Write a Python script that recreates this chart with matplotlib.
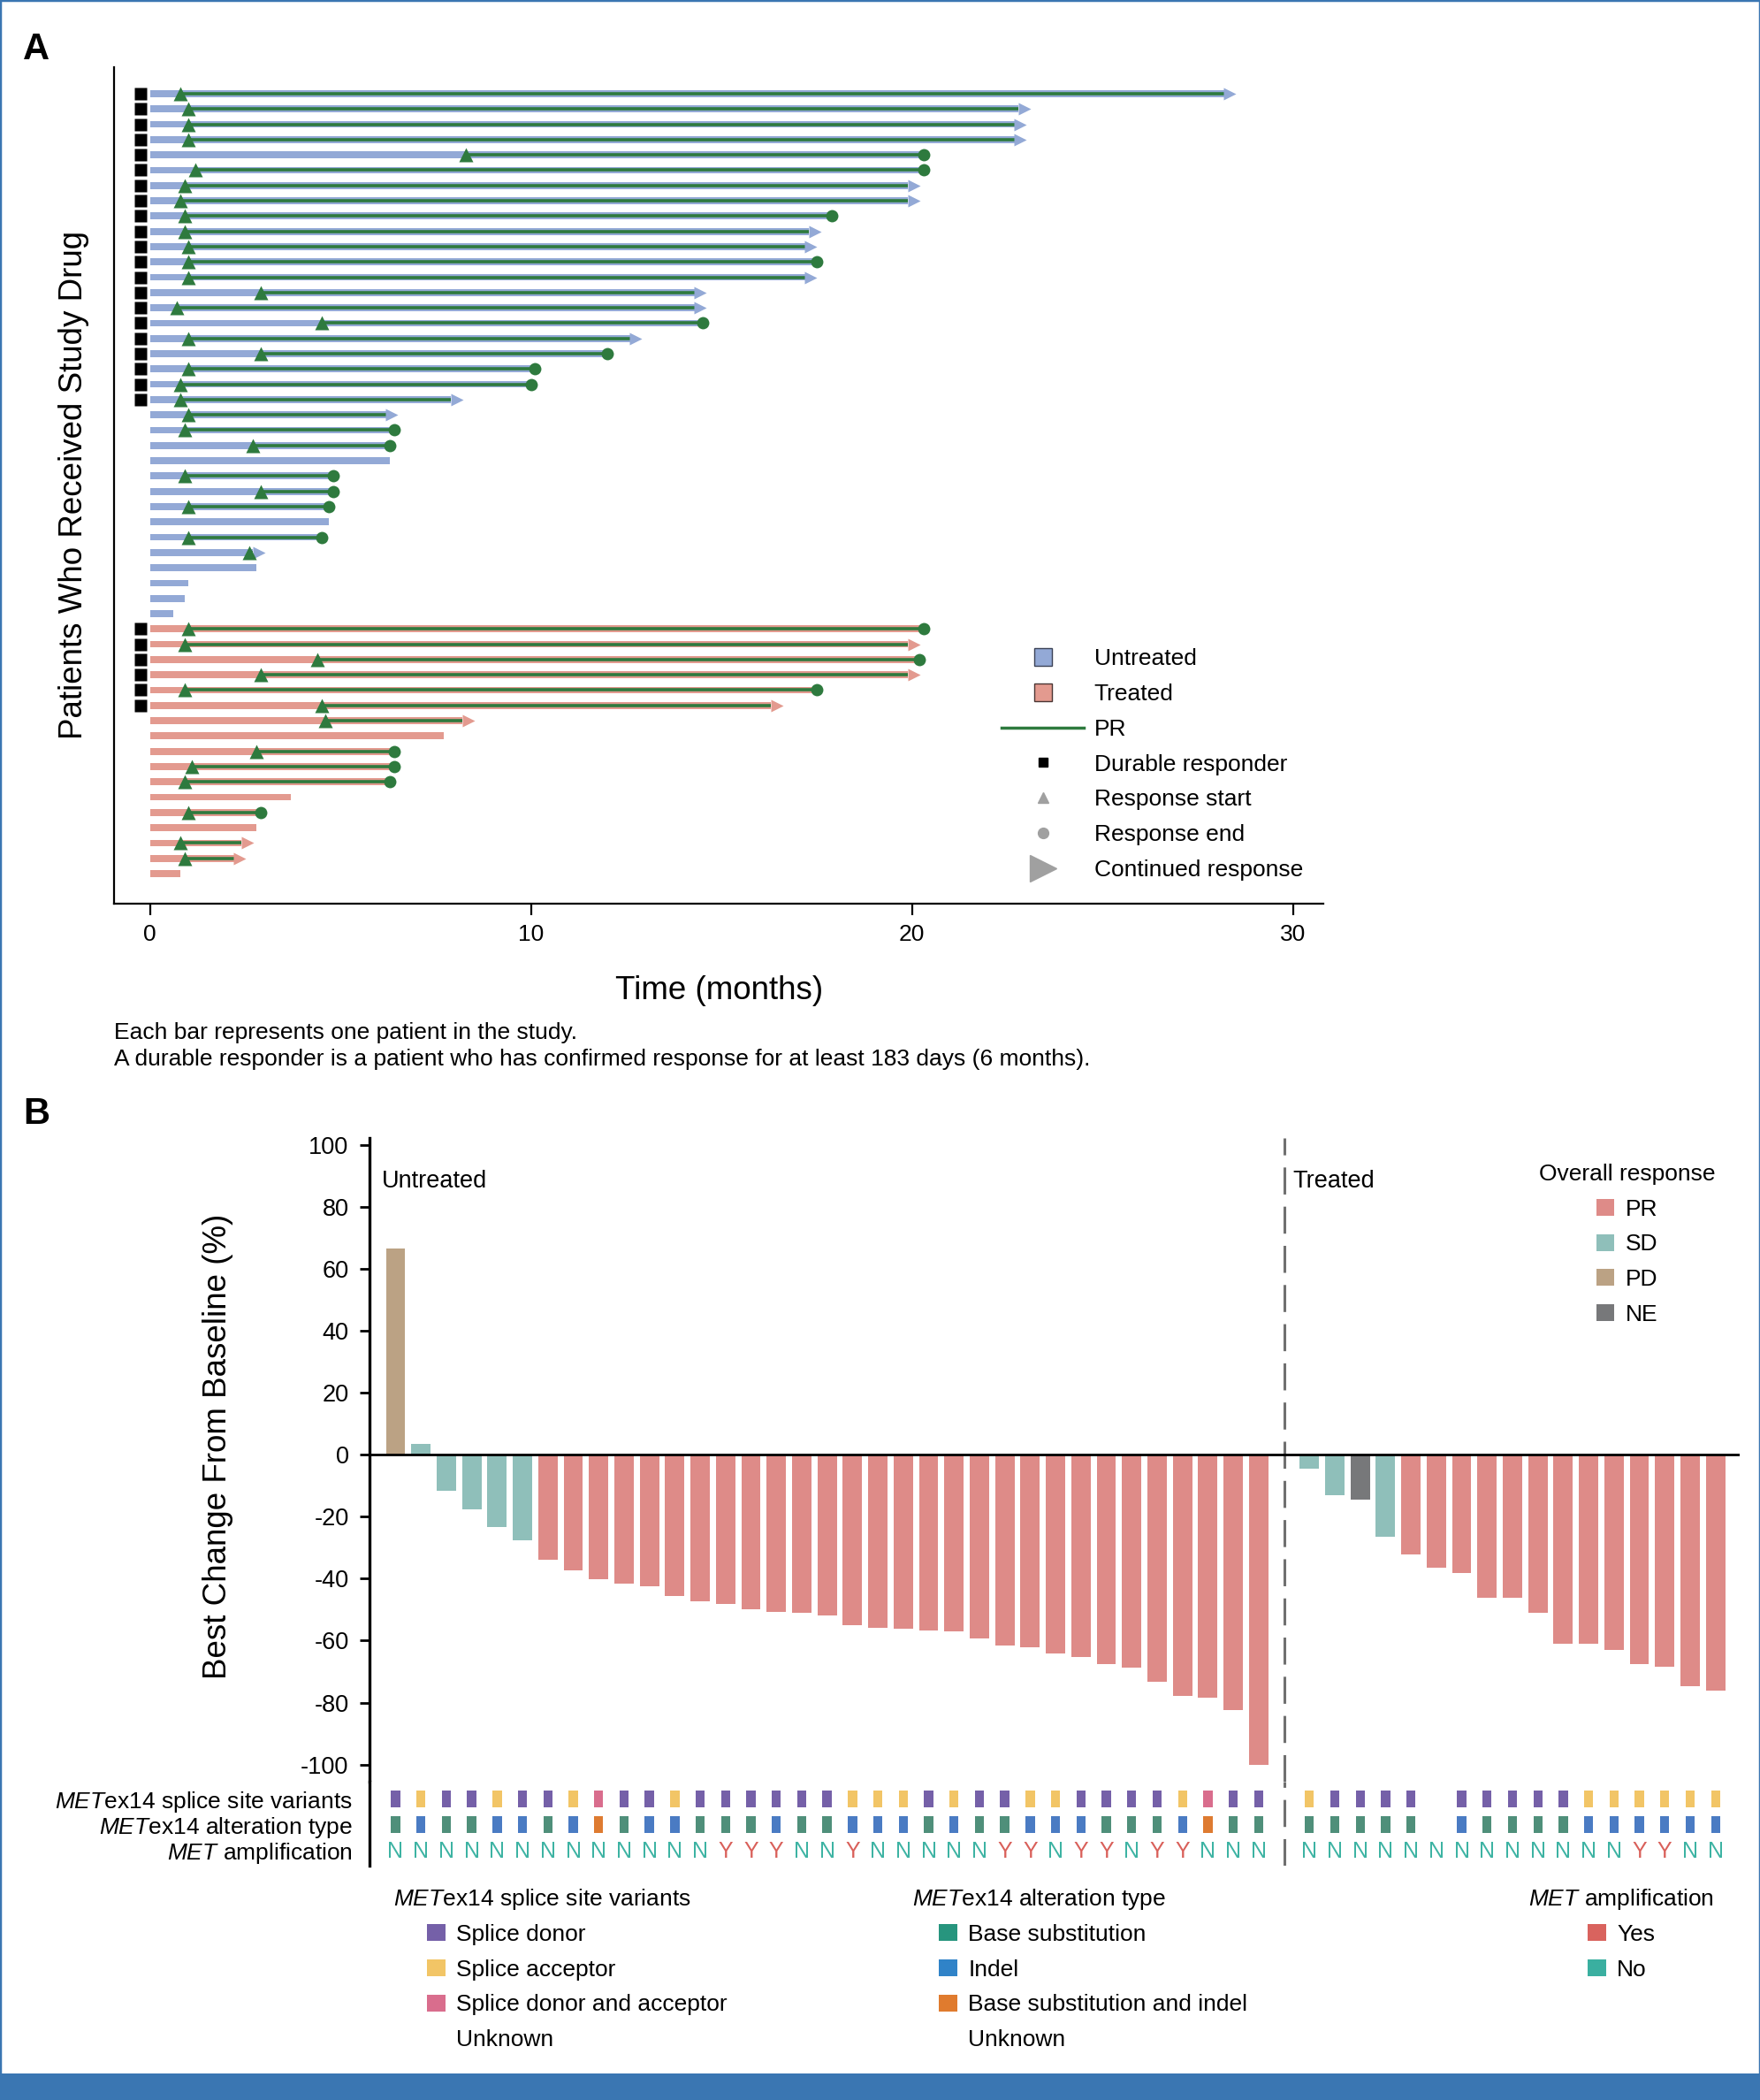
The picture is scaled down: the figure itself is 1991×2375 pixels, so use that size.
import matplotlib
matplotlib.use("Agg")
import matplotlib.pyplot as plt
from matplotlib.lines import Line2D
from matplotlib.patches import Patch, Rectangle
import numpy as np

plt.rcParams['font.family'] = ['Liberation Sans', 'DejaVu Sans']
plt.rcParams['mathtext.fontset'] = 'custom'
plt.rcParams['mathtext.rm'] = 'Liberation Sans'
plt.rcParams['mathtext.it'] = 'Liberation Sans:italic'
plt.rcParams['axes.unicode_minus'] = False

# ---------------- panel A: swimmer data (months) ----------------
untreated_end = [28.2, 22.8, 22.7, 22.7, 20.3, 20.3, 19.9, 19.9, 17.9, 17.3,
                 17.2, 17.5, 17.2, 14.3, 14.3, 14.5, 12.6, 12.0, 10.1, 10.0,
                 7.9, 6.2, 6.4, 6.3, 6.3, 4.8, 4.8, 4.7, 4.7, 4.5,
                 2.7, 2.8, 1.0, 0.9, 0.6]
untreated_start = [0.8, 1.0, 1.0, 1.0, 8.3, 1.2, 0.9, 0.8, 0.9, 0.9,
                   1.0, 1.0, 1.0, 2.9, 0.7, 4.5, 1.0, 2.9, 1.0, 0.8,
                   0.8, 1.0, 0.9, 2.7, None, 0.9, 2.9, 1.0, None, 1.0,
                   2.6, None, None, None, None]
untreated_status = ['arrow', 'arrow', 'arrow', 'arrow', 'end', 'end', 'arrow', 'arrow', 'end', 'arrow',
                    'arrow', 'end', 'arrow', 'arrow', 'arrow', 'end', 'arrow', 'end', 'end', 'end',
                    'arrow', 'arrow', 'end', 'end', None, 'end', 'end', 'end', None, 'end',
                    'arrow', None, None, None, None]
untreated_durable = 21

treated_end = [20.3, 19.9, 20.2, 19.9, 17.5, 16.3, 8.2, 7.7, 6.4, 6.4,
               6.3, 3.7, 2.9, 2.8, 2.4, 2.2, 0.8]
treated_start = [1.0, 0.9, 4.4, 2.9, 0.9, 4.5, 4.6, None, 2.8, 1.1,
                 0.9, None, 1.0, None, 0.8, 0.9, None]
treated_status = ['end', 'arrow', 'end', 'arrow', 'end', 'arrow', 'arrow', None, 'end', 'end',
                  'end', None, 'end', None, 'arrow', 'arrow', None]
treated_durable = 6

# ---------------- panel B: waterfall data (%) ----------------
untreated_change = [66.5, 3.4, -11.5, -17.6, -23.4, -27.7, -33.8, -37.2, -40.3, -41.6,
                    -42.4, -45.5, -47.2, -48.1, -49.8, -50.6, -51.1, -51.9, -55.0, -55.8,
                    -56.3, -56.7, -57.1, -59.3, -61.5, -62.3, -64.1, -65.4, -67.5, -68.8,
                    -73.2, -77.9, -78.4, -82.3, -100.0]
untreated_resp = ['PD'] + ['SD'] * 5 + ['PR'] * 29
treated_change = [-4.5, -13.2, -14.5, -26.5, -32.3, -36.5, -38.2, -46.1, -46.1, -50.9,
                  -61.0, -61.0, -63.1, -67.6, -68.3, -74.6, -76.1]
treated_resp = ['SD', 'SD', 'NE', 'SD'] + ['PR'] * 13

# D donor, A acceptor, B both, U unknown
untreated_splice = list("DADDADDABDDADDDDDDAAADADDAADDDDABDD")
treated_splice = list("ADDDDUDDDDDAAAAAA")
# S base substitution, I indel, X both, U unknown
untreated_alt = list("SISSIISIXSIISSSISSIIISISSIIISSSIXSS")
treated_alt = list("SSSSSUISSSSIIIIII")
untreated_amp = list("NNNNNNNNNNNNNYYYNNYNNNNNYYNYYNYYNNN")
treated_amp = list("NNNNNNNNNNNNNYYNN")

# ---------------- styling ----------------
BLUE = '#93a9d6'
SALMON = '#e39a8f'
GREEN = '#2e7a3e'
resp_colors = {'PR': '#de8b88', 'SD': '#8fbfba', 'PD': '#bba284', 'NE': '#77787a'}
splice_colors = {'D': '#7560a8', 'A': '#f2c566', 'B': '#d96d8d'}
alt_colors = {'S': '#4f8f7a', 'I': '#4a7bc3', 'X': '#de7b31'}
amp_colors = {'Y': '#d9605a', 'N': '#3db3a3'}
FRAME = '#3a76b2'
FS = 19

W, H = 1314, 1568  # layout measured on the reference at this scale


def fx(x):
    return x / W


def fy(y):
    return 1 - y / H


fig = plt.figure(figsize=(19.91, 23.75), dpi=100)

# ================= panel A =================
axA = fig.add_axes([fx(85), fy(675), fx(988) - fx(85), fy(50) - fy(675)])
row = 0
for ends, starts, status, ndur, col in [
        (untreated_end, untreated_start, untreated_status, untreated_durable, BLUE),
        (treated_end, treated_start, treated_status, treated_durable, SALMON)]:
    for k, (e, s, st) in enumerate(zip(ends, starts, status)):
        axA.barh(row, e, height=0.45, color=col, zorder=2)
        if s is not None:
            axA.plot([s, e], [row, row], color=GREEN, lw=2.6, solid_capstyle='butt', zorder=3)
            axA.plot(s, row, marker='^', ms=11, color=GREEN, mec='none', zorder=5)
        if st == 'end':
            axA.plot(e, row, marker='o', ms=10, color=GREEN, mec='none', zorder=5)
        elif st == 'arrow':
            axA.plot(e + 0.15, row, marker='>', ms=10, color=col, mec='none', zorder=4)
        if k < ndur:
            axA.plot(-0.25, row, marker='s', ms=9.5, color='black', mec='none', zorder=5)
        row += 1

axA.set_xlim(-0.95, 30.8)
axA.set_ylim(52.99, -1.75)
axA.set_xticks([0, 10, 20, 30])
axA.set_yticks([])
axA.tick_params(axis='x', length=9, width=1.6, pad=7, labelsize=FS)
for sp in ['top', 'right']:
    axA.spines[sp].set_visible(False)
for sp in ['left', 'bottom']:
    axA.spines[sp].set_linewidth(1.6)

fig.text(fx(55), fy(362), 'Patients Who Received Study Drug', rotation=90,
         ha='center', va='center', fontsize=26.5)
fig.text(fx(537), fy(740), 'Time (months)', ha='center', va='center', fontsize=26.5)

legA = [
    Line2D([], [], ls='none', marker='s', ms=14, mfc=BLUE, mec='#3b4256', mew=1.0),
    Line2D([], [], ls='none', marker='s', ms=14, mfc=SALMON, mec='#4a3533', mew=1.0),
    Line2D([], [], color=GREEN, lw=2.5),
    Line2D([], [], ls='none', marker='s', ms=6.5, color='black'),
    Line2D([], [], ls='none', marker='^', ms=9, color='#a0a0a0'),
    Line2D([], [], ls='none', marker='o', ms=8.5, color='#a0a0a0'),
    Line2D([], [], ls='none', marker='>', ms=21, color='#a0a0a0'),
]
labA = ['Untreated', 'Treated', 'PR', 'Durable responder', 'Response start',
        'Response end', 'Continued response']
fig.legend(legA, labA, loc='upper left', bbox_to_anchor=(fx(748), fy(484)),
           bbox_transform=fig.transFigure, frameon=False, fontsize=FS,
           handlelength=3.5, handletextpad=0.45, labelspacing=0.6,
           borderpad=0, borderaxespad=0)

fig.text(fx(85), fy(771), 'Each bar represents one patient in the study.',
         va='center', fontsize=FS)
fig.text(fx(85), fy(791), 'A durable responder is a patient who has confirmed response '
         'for at least 183 days (6 months).', va='center', fontsize=FS)

# ================= panel B =================
nu = len(untreated_change)
xu = np.arange(nu)
xt = np.arange(nu + 1, nu + 1 + len(treated_change))
x_all = np.concatenate([xu, xt])

axB = fig.add_axes([fx(276), fy(1330), fx(1299) - fx(276), fy(850) - fy(1330)])
axB.bar(xu, untreated_change, width=0.76, color=[resp_colors[r] for r in untreated_resp], zorder=2)
axB.bar(xt, treated_change, width=0.76, color=[resp_colors[r] for r in treated_resp], zorder=2)
axB.axhline(0, color='black', lw=2, zorder=3)
axB.axvline(nu, color='#707070', lw=2.2, dashes=(10, 4.5), zorder=1)
axB.set_xlim(-1.02, 52.96)
axB.set_ylim(-105.4, 102.1)
yt = list(range(-100, 101, 20))
axB.set_yticks(yt)
axB.set_yticklabels([str(v) for v in yt])
axB.set_xticks([])
axB.tick_params(axis='y', length=8, width=2, pad=9, labelsize=19.5)
for sp in ['top', 'right', 'bottom']:
    axB.spines[sp].set_visible(False)
axB.spines['left'].set_linewidth(2.4)

fig.text(fx(163), fy(1080), 'Best Change From Baseline (%)', rotation=90,
         ha='center', va='center', fontsize=26.5)
fig.text(fx(285), fy(882), 'Untreated', va='center', fontsize=19.5)
fig.text(fx(965), fy(882), 'Treated', va='center', fontsize=19.5)

resp_order = ['PR', 'SD', 'PD', 'NE']
fig.legend([Patch(facecolor=resp_colors[r]) for r in resp_order], resp_order,
           title='Overall response', loc='upper center',
           bbox_to_anchor=(fx(1215), fy(869)), bbox_transform=fig.transFigure,
           frameon=False, fontsize=FS, title_fontsize=FS, handlelength=0.75,
           handleheight=0.75, handletextpad=0.5, labelspacing=0.59,
           borderpad=0, borderaxespad=0)

# ---- annotation rows ----
axN = fig.add_axes([fx(276), fy(1393), fx(1299) - fx(276), fy(1330) - fy(1393)])
splice = untreated_splice + treated_splice
alt = untreated_alt + treated_alt
amp = untreated_amp + treated_amp
for xi, s, a, m in zip(x_all, splice, alt, amp):
    if s in splice_colors:
        axN.bar(xi, 0.66, bottom=-0.33, width=0.36, color=splice_colors[s])
    if a in alt_colors:
        axN.bar(xi, 0.66, bottom=0.67, width=0.36, color=alt_colors[a])
    axN.text(xi, 2.03, m, ha='center', va='center', color=amp_colors[m], fontsize=18)
axN.axvline(nu, color='#707070', lw=2.2, dashes=(10, 4.5))
axN.set_xlim(-1.02, 52.96)
axN.set_ylim(2.58, -0.68)
axN.set_xticks([])
axN.set_yticks([0, 1, 2])
axN.set_yticklabels([r'$\mathit{MET}$ex14 splice site variants',
                     r'$\mathit{MET}$ex14 alteration type',
                     r'$\mathit{MET}$ amplification'])
axN.tick_params(axis='y', length=0, pad=14, labelsize=FS)
for sp in ['top', 'right', 'bottom']:
    axN.spines[sp].set_visible(False)
axN.spines['left'].set_linewidth(2.4)

# ---- bottom legends ----
none_patch = Patch(facecolor='none', edgecolor='none')
bottom_legends = [
    (294, 318.6, r'$\mathit{MET}$ex14 splice site variants',
     [Patch(facecolor=splice_colors[k]) for k in 'DAB'] + [none_patch],
     ['Splice donor', 'Splice acceptor', 'Splice donor and acceptor', 'Unknown']),
    (681, 701, r'$\mathit{MET}$ex14 alteration type',
     [Patch(facecolor=c) for c in ['#27957e', '#3083c8', '#e07b2e']] + [none_patch],
     ['Base substitution', 'Indel', 'Base substitution and indel', 'Unknown']),
    (1141, 1185.5, r'$\mathit{MET}$ amplification',
     [Patch(facecolor='#d9635e'), Patch(facecolor='#3aafa0')],
     ['Yes', 'No']),
]
for tx, lx, title, hands, labs in bottom_legends:
    fig.text(fx(tx), fy(1418), title, va='center', fontsize=FS)
    fig.legend(hands, labs, loc='upper left', bbox_to_anchor=(fx(lx), fy(1436.5)),
               bbox_transform=fig.transFigure, frameon=False, fontsize=FS,
               handlelength=0.8, handleheight=0.75, handletextpad=0.45,
               labelspacing=0.6, borderpad=0, borderaxespad=0)

# ---- panel letters and frame ----
fig.text(fx(17), fy(37), 'A', fontsize=30, fontweight='bold', va='center')
fig.text(fx(17), fy(832), 'B', fontsize=30, fontweight='bold', va='center')
fig.patches.append(Rectangle((0, 0), 1, 1, transform=fig.transFigure, fill=False,
                             edgecolor=FRAME, lw=2.5))
fig.patches.append(Rectangle((0, 0), 1, fy(1548), transform=fig.transFigure,
                             facecolor=FRAME, edgecolor='none'))

fig.savefig('out.png', dpi=100)
